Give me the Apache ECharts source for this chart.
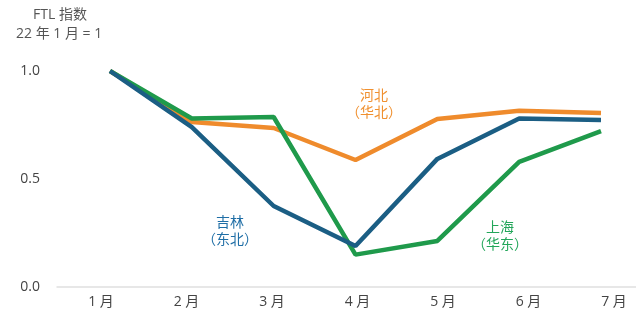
<!DOCTYPE html>
<html>
<head>
<meta charset="utf-8">
<script src="https://cdn.jsdelivr.net/npm/echarts@6/dist/echarts.min.js"></script>
<style>
html, body { margin: 0; padding: 0; background: #fff; }
#chart { width: 636px; height: 309px; }
</style>
</head>
<body>
<div id="chart"></div>
<script>
const months = ["1 月", "2 月", "3 月", "4 月", "5 月", "6 月", "7 月"];
const jilin = [1.0, 0.74, 0.375, 0.19, 0.593, 0.78, 0.773];
const hebei = [1.0, 0.764, 0.736, 0.588, 0.778, 0.816, 0.805];
const shanghai = [1.0, 0.78, 0.787, 0.15, 0.213, 0.579, 0.722];
const yTicks = [0, 0.5, 1.0];

const myChart = echarts.init(document.getElementById("chart"));
const font = "'Open Sans', 'Noto Sans CJK SC', sans-serif";

const line = (name, data, color) => ({
    name: name,
    type: "line",
    xAxisIndex: 0,
    yAxisIndex: 0,
    data: data,
    symbol: "none",
    lineStyle: { color: color, width: 4.5 },
    itemStyle: { color: color },
    animation: false
});

const option = {
    backgroundColor: "#fff",
    textStyle: { fontFamily: font },
    grid: [
        { left: 110, right: 35, top: 71, bottom: 22 },
        { left: 57, right: 0, top: 71, bottom: 22 },
        { left: 101, right: 22, top: 71, bottom: 22 }
    ],
    xAxis: [
        {
            gridIndex: 0, type: "category", data: months, boundaryGap: false,
            axisLine: { show: false }, axisTick: { show: false }, axisLabel: { show: false }
        },
        {
            gridIndex: 1, type: "value", min: 0, max: 1,
            axisLine: { show: true, lineStyle: { color: "#e0e0e0", width: 1.5 } },
            axisTick: { show: false }, axisLabel: { show: false }, splitLine: { show: false }
        },
        {
            gridIndex: 2, type: "value", min: 0, max: months.length - 1, interval: 1,
            axisLine: { show: false }, axisTick: { show: false }, splitLine: { show: false },
            axisLabel: {
                color: "#444", fontSize: 14, margin: 8, fontFamily: font,
                formatter: v => months[v]
            }
        }
    ],
    yAxis: [
        {
            gridIndex: 0, type: "value", min: 0, max: 1, interval: 0.5,
            axisLine: { show: false }, axisTick: { show: false }, splitLine: { show: false },
            axisLabel: {
                color: "#444", fontSize: 14, margin: 70, fontFamily: font,
                formatter: v => yTicks.includes(v) ? v.toFixed(1) : ""
            }
        },
        { gridIndex: 1, type: "value", min: 0, max: 1, show: false },
        { gridIndex: 2, type: "value", min: 0, max: 1, show: false }
    ],
    series: [
        line("河北", hebei, "#ef8b2c"),
        line("上海", shanghai, "#1f9a4b"),
        line("吉林", jilin, "#1b5e84")
    ],
    graphic: [
        { type: "text", left: 33, top: 8, style: { text: "FTL 指数", fill: "#555", font: "14px " + font } },
        { type: "text", left: 16, top: 27, style: { text: "22 年 1 月 = 1", fill: "#555", font: "14px " + font } },
        { type: "text", x: 374, y: 88, style: { text: "河北\n（华北）", fill: "#f0902f", font: "14px " + font, align: "center", lineHeight: 17 } },
        { type: "text", x: 230, y: 215, style: { text: "吉林\n（东北）", fill: "#1f6ea6", font: "14px " + font, align: "center", lineHeight: 17 } },
        { type: "text", x: 500, y: 220, style: { text: "上海\n（华东）", fill: "#23a65a", font: "14px " + font, align: "center", lineHeight: 17 } }
    ]
};

myChart.setOption(option);
</script>
</body>
</html>
